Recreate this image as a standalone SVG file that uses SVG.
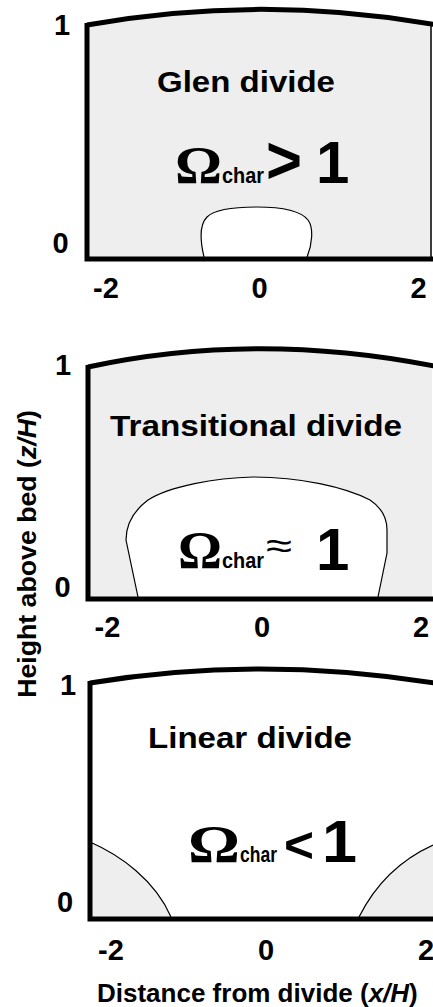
<svg xmlns="http://www.w3.org/2000/svg" width="433" height="1007" viewBox="0 0 433 1007">
<style>
.t{font-family:"Liberation Sans",Arial,sans-serif;font-weight:bold;fill:#000}
.num{font-size:29px;text-anchor:middle}
.title{font-size:30px}
.om{font-family:"Liberation Serif","Times New Roman",serif;font-weight:bold;font-size:53px}
.sub{font-size:22px}
.big{font-size:60px}
.frame{fill:none;stroke:#000;stroke-width:5}
.bub{stroke:#000;stroke-width:1.2}
</style>
<rect width="433" height="1007" fill="#fff"/>

<g id="panel1">
<path d="M87,25 Q258,-6 432,24.5 L432,259 L87,259 Z" fill="#eeeeee"/>
<path class="bub" fill="#fff" d="M204,257 C200,240 199,225 207,217 C215,209 235,207 257,207 C280,207 300,210 308,220 C314,228 312,245 307,257"/>
<path class="frame" d="M87,25 Q258,-6 434,24.5"/>
<path class="frame" d="M87,23 L87,259 L433,259"/>
<line x1="431" y1="24" x2="431" y2="259" stroke="#000" stroke-width="1.5"/>
<text class="t num" x="62" y="35">1</text>
<text class="t num" x="60.5" y="253">0</text>
<text class="t num" x="106" y="298">-2</text>
<text class="t num" x="259.5" y="298">0</text>
<text class="t num" x="418.5" y="298">2</text>
<text class="t title" x="157" y="92" textLength="178" lengthAdjust="spacingAndGlyphs">Glen divide</text>
<text class="om" x="175" y="183" textLength="47" lengthAdjust="spacingAndGlyphs">Ω</text>
<text class="t sub" x="222" y="183" textLength="42" lengthAdjust="spacingAndGlyphs">char</text>
<text class="t" x="266" y="183" font-size="66" textLength="36" lengthAdjust="spacingAndGlyphs">&gt;</text>
<text class="t big" x="316" y="183">1</text>
</g>

<g id="panel2">
<path d="M88,367 Q255,331 432,366 L432,599 L88,599 Z" fill="#eeeeee"/>
<path class="bub" fill="#fff" d="M138,597 L126,540 C126,525 132,512 148,500 C170,486 215,478 253,477 C300,477 345,487 370,500 C382,508 387,518 387,530 L387,553 L378,597"/>
<path class="frame" d="M88,367 Q255,331 434,366"/>
<path class="frame" d="M88,365 L88,599 L433,599"/>
<text class="t num" x="63" y="375">1</text>
<text class="t num" x="62.5" y="597">0</text>
<text class="t num" x="107.5" y="637">-2</text>
<text class="t num" x="262" y="637">0</text>
<text class="t num" x="421" y="637">2</text>
<text class="t title" x="110" y="436" textLength="292" lengthAdjust="spacingAndGlyphs">Transitional divide</text>
<text class="om" x="178" y="568" textLength="44" lengthAdjust="spacingAndGlyphs">Ω</text>
<text class="t sub" x="222" y="568" textLength="42" lengthAdjust="spacingAndGlyphs">char</text>
<text x="266" y="558" font-family="Liberation Sans,Arial,sans-serif" font-size="36" textLength="26" lengthAdjust="spacingAndGlyphs">≈</text>
<text class="t big" x="316" y="570">1</text>
</g>

<g id="panel3">
<path d="M90,842 C120,855 155,880 171,917 L90,917 Z" fill="#eeeeee"/>
<path d="M359,917 C375,885 400,860 433,845 L433,917 Z" fill="#eeeeee"/>
<path class="bub" fill="none" d="M90,842 C120,855 155,880 171,917"/>
<path class="bub" fill="none" d="M359,917 C375,885 400,860 433,845"/>
<path class="frame" d="M90,683 Q258,655 434,683"/>
<path class="frame" d="M90,681 L90,919 L433,919"/>
<text class="t num" x="68" y="695">1</text>
<text class="t num" x="65" y="912">0</text>
<text class="t num" x="111" y="960">-2</text>
<text class="t num" x="266" y="960">0</text>
<text class="t num" x="426" y="960">2</text>
<text class="t title" x="148" y="748" textLength="204" lengthAdjust="spacingAndGlyphs">Linear divide</text>
<text class="om" x="188" y="862" textLength="52" lengthAdjust="spacingAndGlyphs">Ω</text>
<text class="t sub" x="240" y="862" textLength="37" lengthAdjust="spacingAndGlyphs">char</text>
<text class="t" x="284" y="862" font-size="50" textLength="30" lengthAdjust="spacingAndGlyphs">&lt;</text>
<text class="t big" x="322" y="862" textLength="35" lengthAdjust="spacingAndGlyphs">1</text>
</g>

<g id="axes">
<text class="t" font-size="26.7" transform="translate(36,554) rotate(-90)" text-anchor="middle">Height above bed (<tspan font-style="italic">z/H</tspan>)</text>
<text class="t" font-size="26" x="97" y="1002">Distance from divide (<tspan font-style="italic">x/H</tspan>)</text>
</g>
</svg>
